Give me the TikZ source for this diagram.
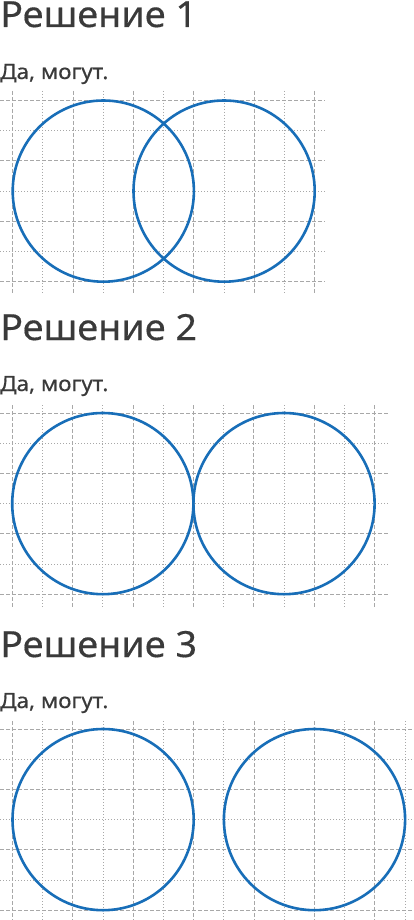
\documentclass[tikz,border=0pt]{standalone}
\usepackage{fontspec}
\setmainfont{Noto Sans}
\newfontfamily\ttlfont{Noto Sans}[FakeStretch=1.05,FakeBold=0.4]
\newfontfamily\ansfont{Noto Sans}[FakeStretch=1.07,FakeBold=0.5]
\definecolor{gridc}{RGB}{168,168,168}
\definecolor{ringc}{RGB}{24,110,184}
\definecolor{textc}{RGB}{58,58,58}
\tikzset{
  gdash/.style={draw=gridc, line width=0.9pt, dash pattern=on 4pt off 2pt},
  gdot/.style={draw=gridc, line width=0.9pt, dash pattern=on 1pt off 2pt},
  ring/.style={draw=ringc, line width=2.6pt, circle, minimum size=181.2pt, inner sep=0pt},
  ttl/.style={anchor=base west, text=textc, inner sep=0pt, font=\ttlfont\fontsize{36}{40}\selectfont},
  ans/.style={anchor=base west, text=textc, inner sep=0pt, font=\ansfont\fontsize{21}{24}\selectfont}
}
\begin{document}
\begin{tikzpicture}[x=1pt,y=-1pt]
\useasboundingbox (0,0) rectangle (414,920);
\fill[white] (0,0) rectangle (414,920);
% ---------- Section 1 ----------
\foreach \k in {0,2,4,6} \draw[gdash] (0,100.5+30.2*\k) -- (325,100.5+30.2*\k);
\foreach \k in {1,3,5} \draw[gdot] (0,100.5+30.2*\k) -- (325,100.5+30.2*\k);
\foreach \k in {0,2,...,10} \draw[gdash] (12.7+30.2*\k,91) -- (12.7+30.2*\k,293);
\foreach \k in {1,3,...,9} \draw[gdot] (12.7+30.2*\k,91) -- (12.7+30.2*\k,293);
\node[ring] (c1a) at (103.3,191.1) {};
\node[ring] (c1b) at (224.1,191.1) {};
\node[ttl] (t1) at (0,27) {Решение 1};
\node[ans] (a1) at (0,79) {Да, могут.};
% ---------- Section 2 ----------
\foreach \k in {0,2,4,6} \draw[gdash] (0,413+30.2*\k) -- (388,413+30.2*\k);
\foreach \k in {1,3,5} \draw[gdot] (0,413+30.2*\k) -- (388,413+30.2*\k);
\foreach \k in {0,2,...,12} \draw[gdash] (12.2+30.2*\k,405) -- (12.2+30.2*\k,607);
\foreach \k in {1,3,...,11} \draw[gdot] (12.2+30.2*\k,405) -- (12.2+30.2*\k,607);
\node[ring] (c2a) at (102.8,503.6) {};
\node[ring] (c2b) at (284.0,503.6) {};
\node[ttl] (t2) at (0,340) {Решение 2};
\node[ans] (a2) at (0,391) {Да, могут.};
% ---------- Section 3 ----------
\foreach \k in {0,2,4,6} \draw[gdash] (0,729+30.2*\k) -- (414,729+30.2*\k);
\foreach \k in {1,3,5} \draw[gdot] (0,729+30.2*\k) -- (414,729+30.2*\k);
\foreach \k in {0,2,...,12} \draw[gdash] (12.5+30.2*\k,721) -- (12.5+30.2*\k,920);
\foreach \k in {1,3,...,13} \draw[gdot] (12.5+30.2*\k,721) -- (12.5+30.2*\k,920);
\node[ring] (c3a) at (103.1,819.6) {};
\node[ring] (c3b) at (314.5,819.6) {};
\node[ttl] (t3) at (0,657) {Решение 3};
\node[ans] (a3) at (0,708) {Да, могут.};
\end{tikzpicture}
\end{document}
